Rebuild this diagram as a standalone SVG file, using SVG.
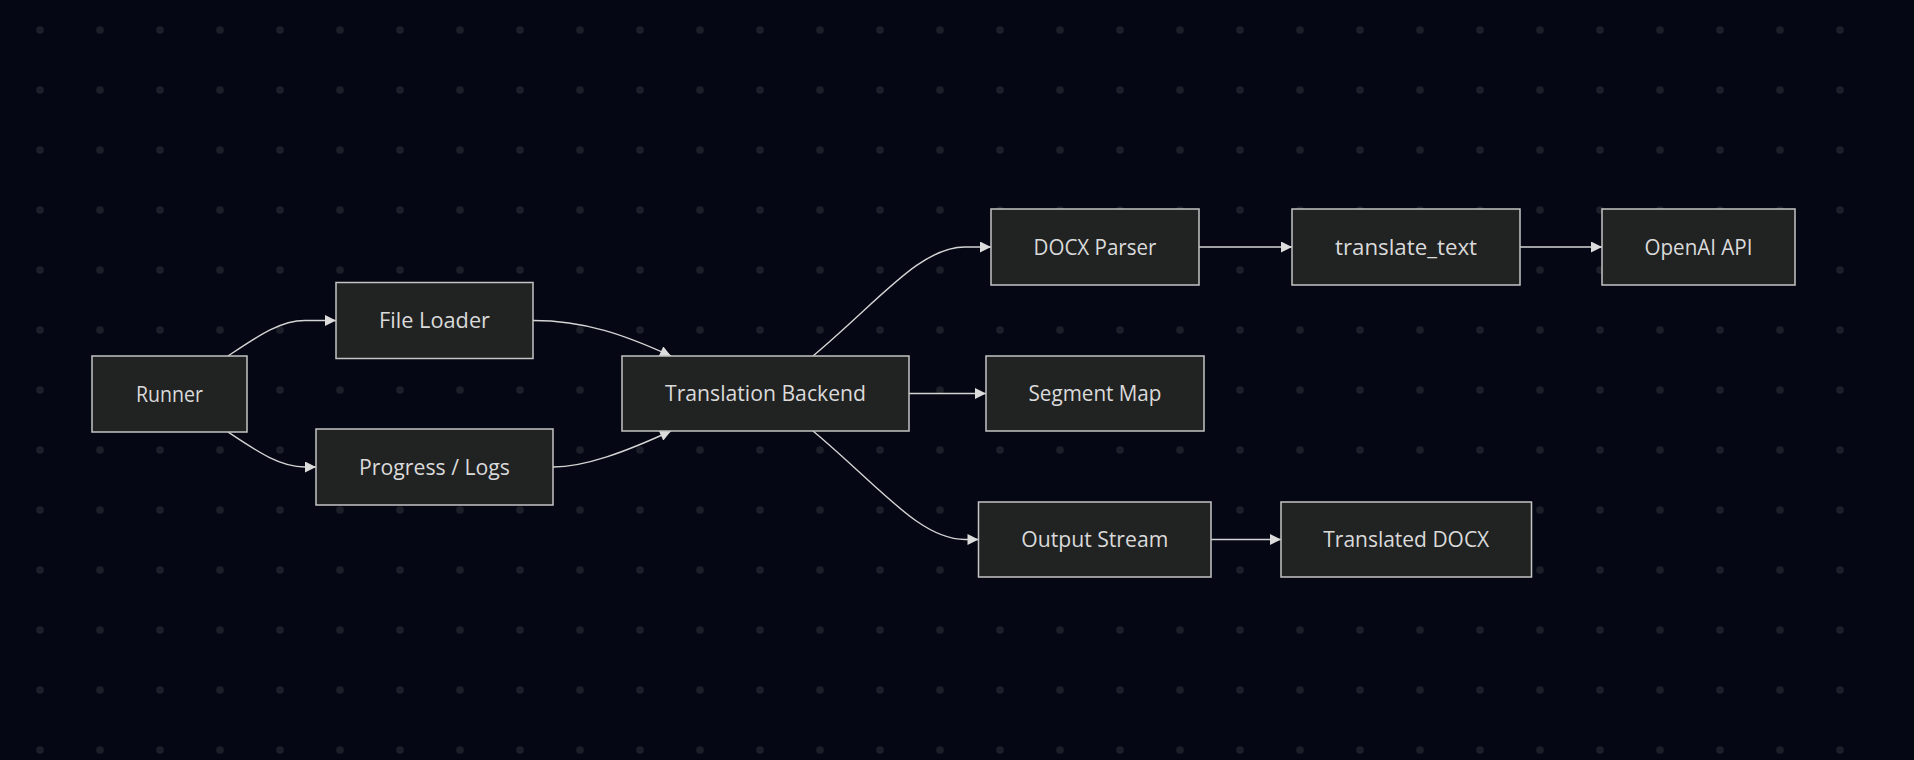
<svg xmlns="http://www.w3.org/2000/svg" width="1914" height="760" viewBox="0 0 1914 760">
  <style>
    .node rect { fill: #212222; stroke: #c4c4c4; stroke-width: 1.5; }
    .node text { fill: #dadada; font-family: "Open Sans", "Noto Sans", "Liberation Sans", sans-serif; font-size: 22px; font-weight: 500; text-anchor: middle; }
    .edge { fill: none; stroke: #d4d4d4; stroke-width: 1.4; }
  </style>
  <defs>
    <pattern id="dots" x="10" y="0" width="60" height="60" patternUnits="userSpaceOnUse">
      <circle cx="30" cy="30" r="3.8" fill="#1c1e28"/>
    </pattern>
    <marker id="arrow" viewBox="0 0 10 10" refX="10" refY="5" markerUnits="userSpaceOnUse" markerWidth="12" markerHeight="11" orient="auto">
      <path d="M0,0 L10,5 L0,10 z" fill="#dcdcdc"/>
    </marker>
  </defs>
  <rect x="0" y="0" width="1914" height="760" fill="#050814"/>
  <rect x="0" y="0" width="1870" height="760" fill="url(#dots)"/>

  <g id="connectors">
    <path class="edge" d="M228,356 C258,336 280,320.5 305,320.5 L336,320.5" marker-end="url(#arrow)"/>
    <path class="edge" d="M228,432 C258,452 280,467 305,467 L316,467" marker-end="url(#arrow)"/>
    <path class="edge" d="M533,320.5 C585,320.5 625,335 671,356" marker-end="url(#arrow)"/>
    <path class="edge" d="M553,467 C585,467 625,452 671,431" marker-end="url(#arrow)"/>
    <path class="edge" d="M813,356 C880,300 920,247 965,247 L991,247" marker-end="url(#arrow)"/>
    <path class="edge" d="M909,393.5 L986,393.5" marker-end="url(#arrow)"/>
    <path class="edge" d="M813,431 C880,487 920,539.5 965,539.5 L978.5,539.5" marker-end="url(#arrow)"/>
    <path class="edge" d="M1199,247 L1292,247" marker-end="url(#arrow)"/>
    <path class="edge" d="M1520,247 L1602,247" marker-end="url(#arrow)"/>
    <path class="edge" d="M1211,539.5 L1281,539.5" marker-end="url(#arrow)"/>
  </g>

  <g id="runner" class="node">
    <rect x="92" y="356" width="155" height="76"/>
    <text x="169.5" y="401.5" textLength="67" lengthAdjust="spacingAndGlyphs">Runner</text>
  </g>
  <g id="file-loader" class="node">
    <rect x="336" y="282.5" width="197" height="76"/>
    <text x="434.5" y="328" textLength="111" lengthAdjust="spacingAndGlyphs">File Loader</text>
  </g>
  <g id="progress-logs" class="node">
    <rect x="316" y="429" width="237" height="76"/>
    <text x="434.5" y="474.5" textLength="151" lengthAdjust="spacingAndGlyphs">Progress / Logs</text>
  </g>
  <g id="translation-backend" class="node">
    <rect x="622" y="356" width="287" height="75"/>
    <text x="765.5" y="401" textLength="201" lengthAdjust="spacingAndGlyphs">Translation Backend</text>
  </g>
  <g id="docx-parser" class="node">
    <rect x="991" y="209" width="208" height="76"/>
    <text x="1095" y="254.5" textLength="123" lengthAdjust="spacingAndGlyphs">DOCX Parser</text>
  </g>
  <g id="segment-map" class="node">
    <rect x="986" y="356" width="218" height="75"/>
    <text x="1095" y="401" textLength="133" lengthAdjust="spacingAndGlyphs">Segment Map</text>
  </g>
  <g id="output-stream" class="node">
    <rect x="978.5" y="502" width="232.5" height="75"/>
    <text x="1094.75" y="547" textLength="147" lengthAdjust="spacingAndGlyphs">Output Stream</text>
  </g>
  <g id="translate-text" class="node">
    <rect x="1292" y="209" width="228" height="76"/>
    <text x="1406" y="254.5" textLength="142" lengthAdjust="spacingAndGlyphs">translate_text</text>
  </g>
  <g id="openai-api" class="node">
    <rect x="1602" y="209" width="193" height="76"/>
    <text x="1698.5" y="254.5" textLength="108" lengthAdjust="spacingAndGlyphs">OpenAI API</text>
  </g>
  <g id="translated-docx" class="node">
    <rect x="1281" y="502" width="250.5" height="75"/>
    <text x="1406.25" y="547" textLength="166" lengthAdjust="spacingAndGlyphs">Translated DOCX</text>
  </g>
</svg>
